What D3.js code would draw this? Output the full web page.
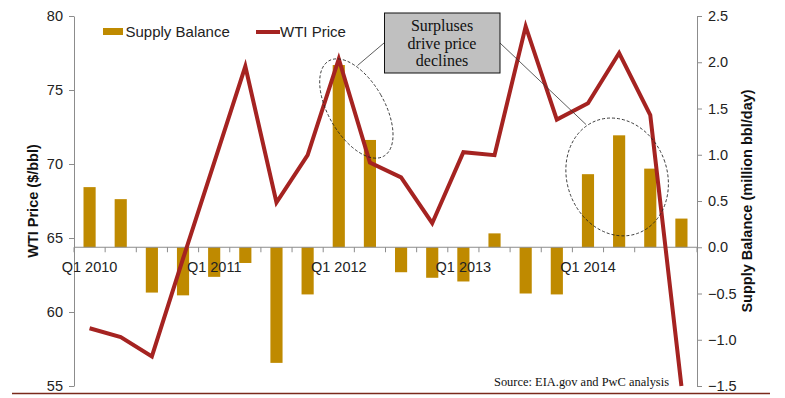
<!DOCTYPE html>
<html>
<head>
<meta charset="utf-8">
<script src="https://cdn.jsdelivr.net/npm/d3@7"></script>
<style>
  body { margin: 0; background: #fff; }
  svg text { font-family: "Liberation Sans", Arial, sans-serif; fill: #222; }
  .axis path, .axis line { stroke: #8c8c8c; }
</style>
</head>
<body>
<svg width="785" height="398"></svg>
<script>
const svg = d3.select('svg');

const quarters = ['Q1 2010','Q2 2010','Q3 2010','Q4 2010','Q1 2011','Q2 2011','Q3 2011','Q4 2011',
                  'Q1 2012','Q2 2012','Q3 2012','Q4 2012','Q1 2013','Q2 2013','Q3 2013','Q4 2013',
                  'Q1 2014','Q2 2014','Q3 2014','Q4 2014'];
const supplyBalance = [0.65, 0.52, -0.49, -0.52, -0.32, -0.17, -1.25, -0.51,
                       1.97, 1.16, -0.27, -0.33, -0.37, 0.15, -0.50, -0.51,
                       0.79, 1.21, 0.85, 0.31];
const wtiPrice = [58.9, 58.3, 57.0, 63.6, 70.1, 76.6, 67.4, 70.6,
                  77.1, 70.1, 69.1, 66.0, 70.8, 70.6, 79.3, 73.0,
                  74.1, 77.5, 73.3, 55.0];
const leftTicks = [55, 60, 65, 70, 75, 80];
const rightTicks = [-1.5, -1.0, -0.5, 0.0, 0.5, 1.0, 1.5, 2.0, 2.5];
const yearLabels = ['Q1 2010', 'Q1 2011', 'Q1 2012', 'Q1 2013', 'Q1 2014'];

const barColor = '#bf8a00';
const lineColor = '#a52321';

const plot = { left: 74, right: 697, top: 16, bottom: 386 };

const x = d3.scaleBand()
    .domain(quarters)
    .range([plot.left, plot.right])
    .padding(0);

const yPrice = d3.scaleLinear()
    .domain([55, 80])
    .range([plot.bottom, plot.top]);

const yBal = d3.scaleLinear()
    .domain([-1.5, 2.5])
    .range([plot.bottom, plot.top]);

const barW = x.bandwidth() * 0.39;

// bars
svg.append('g').selectAll('rect')
    .data(quarters)
    .enter().append('rect')
    .attr('x', (d) => x(d) + (x.bandwidth() - barW) / 2)
    .attr('width', barW)
    .attr('y', (d, i) => yBal(Math.max(0, supplyBalance[i])))
    .attr('height', (d, i) => Math.abs(yBal(supplyBalance[i]) - yBal(0)))
    .attr('fill', barColor);

// left axis
svg.append('g')
    .attr('class', 'axis')
    .attr('transform', `translate(${plot.left},0)`)
    .call(d3.axisLeft(yPrice).tickValues(leftTicks).tickSize(5).tickSizeOuter(0).tickPadding(6))
    .call(g => g.selectAll('text').attr('font-size', 14.5).style('font-family', null))
    .call(g => g.attr('font-family', null));

// right axis
svg.append('g')
    .attr('class', 'axis')
    .attr('transform', `translate(${plot.right},0)`)
    .call(d3.axisRight(yBal).tickValues(rightTicks).tickFormat(d3.format('.1f')).tickSize(5).tickSizeOuter(0).tickPadding(6))
    .call(g => g.selectAll('text').attr('font-size', 14.5))
    .call(g => g.attr('font-family', null));

// category axis at zero
const cat = svg.append('g').attr('class', 'axis');
cat.append('line')
    .attr('x1', plot.left).attr('x2', plot.right)
    .attr('y1', yBal(0)).attr('y2', yBal(0));
cat.selectAll('.tk')
    .data(quarters.concat(['end']))
    .enter().append('line')
    .attr('x1', (d, i) => plot.left + i * x.step())
    .attr('x2', (d, i) => plot.left + i * x.step())
    .attr('y1', yBal(0)).attr('y2', yBal(0) + 5);
cat.selectAll('text')
    .data(yearLabels)
    .enter().append('text')
    .attr('x', d => x(d) + x.bandwidth() / 2)
    .attr('y', yBal(0) + 25)
    .attr('text-anchor', 'middle')
    .attr('font-size', 14.5)
    .text(d => d);

// price line
const line = d3.line()
    .x((d, i) => x(quarters[i]) + x.bandwidth() / 2)
    .y(d => yPrice(d));

svg.append('path')
    .datum(wtiPrice)
    .attr('d', line)
    .attr('fill', 'none')
    .attr('stroke', lineColor)
    .attr('stroke-width', 4)
    .attr('stroke-linejoin', 'miter');

// axis titles
svg.append('text')
    .attr('transform', `translate(38,${(plot.top + plot.bottom) / 2}) rotate(-90)`)
    .attr('text-anchor', 'middle')
    .attr('font-size', 14.5)
    .attr('font-weight', 'bold')
    .style('fill', '#111')
    .text('WTI Price ($/bbl)');

svg.append('text')
    .attr('transform', `translate(752,${(plot.top + plot.bottom) / 2}) rotate(-90)`)
    .attr('text-anchor', 'middle')
    .attr('font-size', 14.5)
    .attr('font-weight', 'bold')
    .style('fill', '#111')
    .text('Supply Balance (million bbl/day)');

// legend
const leg = svg.append('g');
leg.append('rect').attr('x', 103).attr('y', 28).attr('width', 20).attr('height', 7).attr('fill', barColor);
leg.append('text').attr('x', 125.5).attr('y', 37).attr('font-size', 15).text('Supply Balance');
leg.append('line').attr('x1', 256).attr('x2', 280).attr('y1', 32).attr('y2', 32)
    .attr('stroke', lineColor).attr('stroke-width', 4);
leg.append('text').attr('x', 280).attr('y', 37).attr('font-size', 15).text('WTI Price');

// annotation
const ann = svg.append('g');
const e1 = { cx: x('Q2 2012'), cy: yBal(1.5) };
const e2 = { cx: x('Q2 2014') + x.bandwidth() / 2 - 2, cy: yBal(0.76) };
ann.append('ellipse')
    .attr('transform', `translate(${e1.cx + 2},${e1.cy}) rotate(-30)`)
    .attr('rx', 28).attr('ry', 55)
    .attr('fill', 'none').attr('stroke', '#222').attr('stroke-width', 0.8).attr('stroke-dasharray', '3,2');
ann.append('ellipse')
    .attr('transform', `translate(${e2.cx},${e2.cy}) rotate(-20)`)
    .attr('rx', 50).attr('ry', 60)
    .attr('fill', 'none').attr('stroke', '#222').attr('stroke-width', 0.8).attr('stroke-dasharray', '3,2');
ann.append('line').attr('x1', 384).attr('y1', 43).attr('x2', 357.5).attr('y2', 65.5)
    .attr('stroke', '#333').attr('stroke-width', 0.8);
ann.append('line').attr('x1', 500).attr('y1', 43).attr('x2', 586).attr('y2', 124.5)
    .attr('stroke', '#333').attr('stroke-width', 0.8);
ann.append('rect')
    .attr('x', 384.5).attr('y', 13).attr('width', 115.5).attr('height', 60)
    .attr('fill', '#c0c0c0').attr('stroke', '#111').attr('stroke-width', 1);
ann.selectAll('.al')
    .data(['Surpluses', 'drive price', 'declines'])
    .enter().append('text')
    .attr('x', 442)
    .attr('y', (d, i) => 31 + i * 17.5)
    .attr('text-anchor', 'middle')
    .attr('font-size', 16)
    .style('font-family', '"Liberation Serif", "Times New Roman", serif')
    .style('fill', '#111')
    .text(d => d);

// source
svg.append('text')
    .attr('x', 494).attr('y', 386)
    .attr('font-size', 12.5)
    .attr('textLength', 175)
    .attr('lengthAdjust', 'spacingAndGlyphs')
    .style('font-family', '"Liberation Serif", "Times New Roman", serif')
    .style('fill', '#111')
    .text('Source: EIA.gov and PwC analysis');

// bottom rule
svg.append('line')
    .attr('x1', 12).attr('x2', 770).attr('y1', 393.5).attr('y2', 393.5)
    .attr('stroke', '#7a2a1c').attr('stroke-width', 1.5);
</script>
</body>
</html>
